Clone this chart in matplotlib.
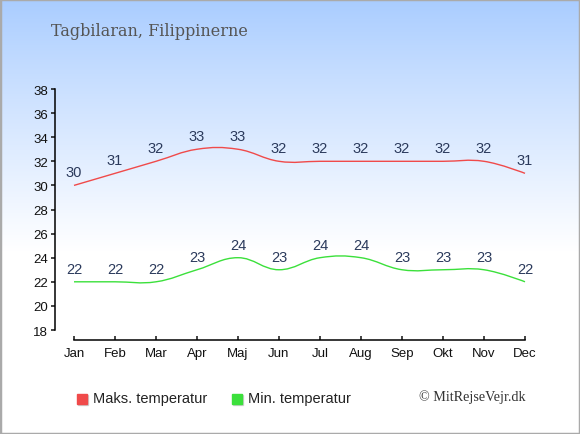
import numpy as np
import matplotlib
matplotlib.use("Agg")
import matplotlib.pyplot as plt
from matplotlib.path import Path
from matplotlib.patches import PathPatch, Rectangle

months = ["Jan", "Feb", "Mar", "Apr", "Maj", "Jun", "Jul", "Aug", "Sep", "Okt", "Nov", "Dec"]
max_temp = [30, 31, 32, 33, 33, 32, 32, 32, 32, 32, 32, 31]
min_temp = [22, 22, 22, 23, 24, 23, 24, 24, 23, 23, 23, 22]
yticks = list(range(18, 39, 2))

title = "Tagbilaran, Filippinerne"
max_label = "Maks. temperatur"
min_label = "Min. temperatur"
credit = "\u00a9 MitRejseVejr.dk"

red = "#f04a4a"
green = "#3be03b"
label_col = "#2b3a5c"

plt.rcParams["font.family"] = ["Liberation Sans", "DejaVu Sans"]


def spline_path(xs, ys, smoothing=1.5):
    # bezier spline through the points, control points like highcharts (no clamping)
    n = len(xs)
    lc = [(x, y) for x, y in zip(xs, ys)]
    rc = [(x, y) for x, y in zip(xs, ys)]
    d = smoothing + 1
    for i in range(1, n - 1):
        px, py = xs[i], ys[i]
        lx, ly = xs[i - 1], ys[i - 1]
        nx, ny = xs[i + 1], ys[i + 1]
        lcx = (smoothing * px + lx) / d
        lcy = (smoothing * py + ly) / d
        rcx = (smoothing * px + nx) / d
        rcy = (smoothing * py + ny) / d
        corr = (rcy - lcy) * (rcx - px) / (rcx - lcx) + py - rcy
        lc[i] = (lcx, lcy + corr)
        rc[i] = (rcx, rcy + corr)
    verts = [(xs[0], ys[0])]
    codes = [Path.MOVETO]
    for i in range(1, n):
        verts += [rc[i - 1], lc[i], (xs[i], ys[i])]
        codes += [Path.CURVE4] * 3
    return Path(verts, codes)


W, H = 580, 435
fig = plt.figure(figsize=(W / 100, H / 100), dpi=100)

# background gradient
bg = fig.add_axes([0, 0, 1, 1])
grad = np.linspace(0, 1, 256).reshape(-1, 1)
top = np.array([0.66, 0.80, 1.0])
col = top + (1 - top) * np.clip(grad / 0.58, 0, 1) ** 0.9
col = np.clip(col, 0, 1)
bg.imshow(col.reshape(256, 1, 3), aspect="auto", extent=[0, 1, 0, 1], origin="upper")
bg.set_xlim(0, 1); bg.set_ylim(0, 1)
bg.axis("off")
bg.add_patch(Rectangle((0, 0), 1, 1, transform=bg.transAxes, fill=False,
                       edgecolor="#aaaaaa", linewidth=2.5))

x = np.arange(len(months))
x0_px, dx_px = 74, 41
y18_px, py_per = 331, 12.05
left_px, right_px = 55, 527
bottom_px, top_px = 341, 88
xl = (0 - (x0_px - left_px) / dx_px, 11 + (right_px - 525) / dx_px)
yl = (18 - (bottom_px - y18_px) / py_per, 38 + (90 - top_px) / py_per)

ax = fig.add_axes([left_px / W, 1 - bottom_px / H, (right_px - left_px) / W, (bottom_px - top_px) / H])
ax.patch.set_alpha(0)
ax.set_xlim(*xl)
ax.set_ylim(*yl)
for s in ["top", "right"]:
    ax.spines[s].set_visible(False)
ax.spines["left"].set_bounds(18, 38)
ax.spines["bottom"].set_bounds(0, 11)
ax.spines["left"].set_linewidth(1.1)
ax.spines["bottom"].set_linewidth(1.1)
ax.set_yticks(yticks)
ax.set_xticks(x)
ax.set_xticklabels(months)
ax.tick_params(axis="y", direction="out", length=3.0, width=1.1, labelsize=9.5, pad=2.2, colors="#111111")
ax.tick_params(axis="x", direction="in", length=2.8, width=1.1, labelsize=9.5, pad=5, colors="#111111")

for vals, c in [(max_temp, red), (min_temp, green)]:
    ax.add_patch(PathPatch(spline_path(list(x), vals), facecolor="none", edgecolor=c, linewidth=1.0))
    for xi, v in zip(x, vals):
        ax.annotate(str(v), (xi, v), xytext=(0, 6.5), textcoords="offset points",
                    ha="center", va="baseline", fontsize=10.5, color=label_col,
                    annotation_clip=False)

fig.text(51 / W, 1 - 32 / H, title, family="DejaVu Serif", fontsize=11.5, color="#555555",
         ha="left", va="center")

# legend
for sx, c, lab in [(77, red, max_label), (232, green, min_label)]:
    fig.patches.append(Rectangle(((sx + 1) / W, 1 - 406 / H), 10 / W, 10 / H,
                                 transform=fig.transFigure, color="#bbbbbb", alpha=0.6))
    fig.patches.append(Rectangle((sx / W, 1 - 405 / H), 10 / W, 10 / H,
                                 transform=fig.transFigure, color=c))
    fig.text((sx + 16) / W, 1 - 399 / H, lab, fontsize=10.5, color="#222222",
             ha="left", va="center")

fig.text(526 / W, 1 - 397 / H, credit, family="Liberation Serif", fontsize=10.2, color="#333333",
         ha="right", va="center")

fig.savefig("out.png", dpi=100)
